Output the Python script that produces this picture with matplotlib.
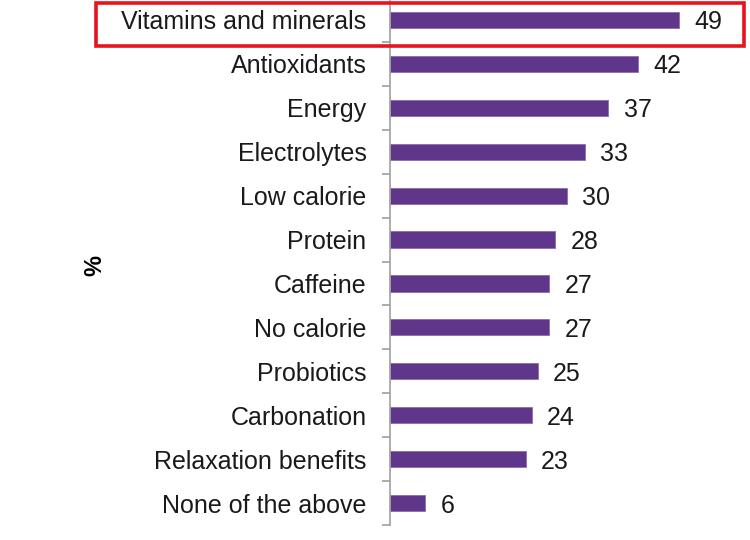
import matplotlib
matplotlib.use("Agg")
import matplotlib.pyplot as plt
from matplotlib.patches import Rectangle
from matplotlib.ticker import FixedLocator

plt.rcParams['font.family'] = ['Liberation Sans', 'DejaVu Sans']

categories = ["Vitamins and minerals", "Antioxidants", "Energy", "Electrolytes",
              "Low calorie", "Protein", "Caffeine", "No calorie", "Probiotics",
              "Carbonation", "Relaxation benefits", "None of the above"]
values = [49, 42, 37, 33, 30, 28, 27, 27, 25, 24, 23, 6]

fig = plt.figure(figsize=(7.5, 5.4), dpi=100)
ax = fig.add_axes([390/750, 15/540, 354/750, 527/540])

y = list(range(len(categories)))
ax.barh(y, values, height=0.37, color="#60368a", edgecolor="#8c6cae", linewidth=0.6)
ax.set_ylim(len(categories) - 0.5, -0.5)
ax.set_xlim(0, 60)

for yi, v in zip(y, values):
    ax.annotate(str(v), xy=(v, yi), xytext=(11, 0), textcoords="offset points",
                va="center_baseline", ha="left", fontsize=18, color="#1a1a1a")

ax.set_yticks(y)
ax.set_yticklabels(categories, fontsize=18, color="#1a1a1a")
for lab in ax.get_yticklabels():
    lab.set_verticalalignment("center_baseline")
ax.tick_params(axis="y", which="major", length=0, pad=17)
ax.yaxis.set_minor_locator(FixedLocator([i + 0.5 for i in range(len(categories))]))
ax.tick_params(axis="y", which="minor", length=6, width=1.2, color="#a0a0a0", direction="out")
ax.set_xticks([])
for s in ["top", "right", "bottom"]:
    ax.spines[s].set_visible(False)
ax.spines["left"].set_color("#a0a0a0")
ax.spines["left"].set_linewidth(1.2)

fig.text(95/750, 1 - 265/540, "%", rotation=90, fontsize=17, fontweight="bold",
         ha="center", va="center", color="#000000")

fig.patches.append(Rectangle((96/750, 1 - 46/540), (744 - 96)/750, 43/540,
                             transform=fig.transFigure, fill=False,
                             edgecolor="#e8141c", linewidth=2.6))

fig.savefig("out.png", dpi=100)
